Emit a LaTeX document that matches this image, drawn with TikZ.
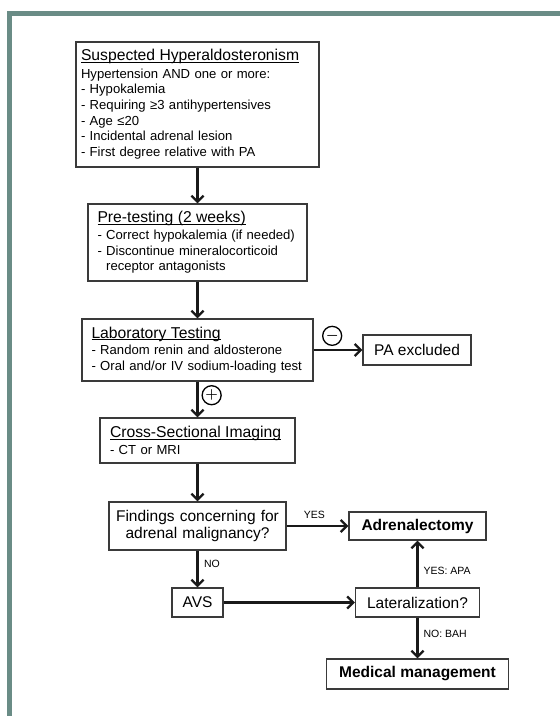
\documentclass[tikz,border=0pt]{standalone}
\usepackage{fontspec}
\setmainfont{Liberation Sans}
\usepackage{tikz}
\usetikzlibrary{arrows.meta,shapes}
\definecolor{framegreen}{HTML}{6A8C86}
\definecolor{boxgray}{HTML}{3A3A3A}
\newcommand{\sbody}{\fontsize{13.1bp}{15.7bp}\selectfont}
\newcommand{\sbig}{\fontsize{15.5bp}{17bp}\selectfont}
\newcommand{\slabel}{\fontsize{10.5bp}{12bp}\selectfont}
\newcommand{\stitle}[1]{{\fontsize{15.7bp}{18bp}\selectfont\setbox0\hbox{#1}\rlap{\rule[-2.2bp]{\wd0}{1bp}}\box0}}

\begin{document}
\begin{tikzpicture}[>={Straight Barb[length=6bp,width=12bp]}]
      \tikzstyle{every node}=[font=\sbody]
      \tikzstyle{stepbox}=[draw=boxgray, line width=1.4bp, fill=white, align=left]
      \tikzstyle{endbox}=[draw=boxgray, line width=1.4bp, fill=white, align=center, font=\sbig, inner sep=0pt]
      \tikzstyle{sign}=[draw=black, circle, line width=1.3bp, minimum size=19bp, inner sep=0pt, font=\sbig\boldmath]
      \tikzstyle{lbl}=[font=\slabel, inner sep=1.5bp]
      \tikzstyle{flow}=[->, draw=black!90, line width=2.3bp]
      %%
  \useasboundingbox (0bp,0bp) rectangle (560bp,716bp);
  \fill [framegreen] (7bp,700bp) rectangle (560bp,705bp);
  \fill [framegreen] (7bp,0bp) rectangle (12bp,705bp);
  %%
  \node (s_suspect) at (197.5bp,611.5bp) [stepbox, inner xsep=5bp, text width=233bp, minimum height=125bp] {\stitle{Suspected Hyperaldosteronism}\\[1.5bp]
    Hypertension AND one or more:\\
    - Hypokalemia\\
    - Requiring ≥3 antihypertensives\\
    - Age ≤20\\
    - Incidental adrenal lesion\\
    - First degree relative with PA};
  \node (s_pretest) at (197.5bp,473.5bp) [stepbox, inner xsep=9.5bp, text width=200bp, minimum height=77bp] {\stitle{Pre-testing (2 weeks)}\\[1bp]
    - Correct hypokalemia (if needed)\\
    - Discontinue mineralocorticoid\\
    \phantom{- }receptor antagonists};
  \node (s_lab) at (197.5bp,366bp) [stepbox, inner xsep=9.5bp, text width=212bp, minimum height=62bp] {\stitle{Laboratory Testing}\\[1bp]
    - Random renin and aldosterone\\
    - Oral and/or IV sodium-loading test};
  \node (s_excl) at (417bp,366bp) [endbox, minimum width=108bp, minimum height=30bp] {PA excluded};
  \node (s_imaging) at (197.5bp,275.5bp) [stepbox, inner xsep=10bp, text width=175bp, minimum height=45bp] {\stitle{Cross-Sectional Imaging}\\[1bp]
    - CT or MRI};
  \node (s_findings) at (197.5bp,190bp) [endbox, text width=177bp, minimum height=48bp] {Findings concerning for\\ adrenal malignancy?};
  \node (s_adrex) at (417.5bp,190bp) [endbox, font=\sbig\bfseries, minimum width=137bp, minimum height=28bp] {Adrenalectomy};
  \node (s_avs) at (197.5bp,113.5bp) [endbox, minimum width=51bp, minimum height=29bp] {AVS};
  \node (s_later) at (417.5bp,113.5bp) [endbox, minimum width=124bp, minimum height=29bp] {Lateralization?};
  \node (s_medic) at (417.5bp,42bp) [endbox, font=\sbig\bfseries, minimum width=182bp, minimum height=30bp] {Medical management};
  %%
  \draw [flow] (s_suspect) -- (s_pretest);
  \draw [flow] (s_pretest) -- (s_lab);
  \draw [flow] (s_lab) -- node [sign, pos=0.38, above=4bp] (g_minus) {$-$} (s_excl);
  \draw [flow] (s_lab) -- node [sign, pos=0.38, right=4bp] (g_plus) {$+$} (s_imaging);
  \draw [flow] (s_imaging) -- (s_findings);
  \draw [flow] (s_findings) -- node [lbl, pos=0.45, above=4.5bp] (l_yes) {YES} (s_adrex);
  \draw [flow] (s_findings) -- node [lbl, pos=0.37, right=4bp] (l_no) {NO} (s_avs);
  \draw [flow] (s_avs) -- (s_later);
  \draw [flow] (s_later) -- node [lbl, pos=0.35, right=3.5bp] (l_apa) {YES: APA} (s_adrex);
  \draw [flow] (s_later) -- node [lbl, pos=0.4, right=3.5bp] (l_bah) {NO: BAH} (s_medic);
%
\end{tikzpicture}
\end{document}
